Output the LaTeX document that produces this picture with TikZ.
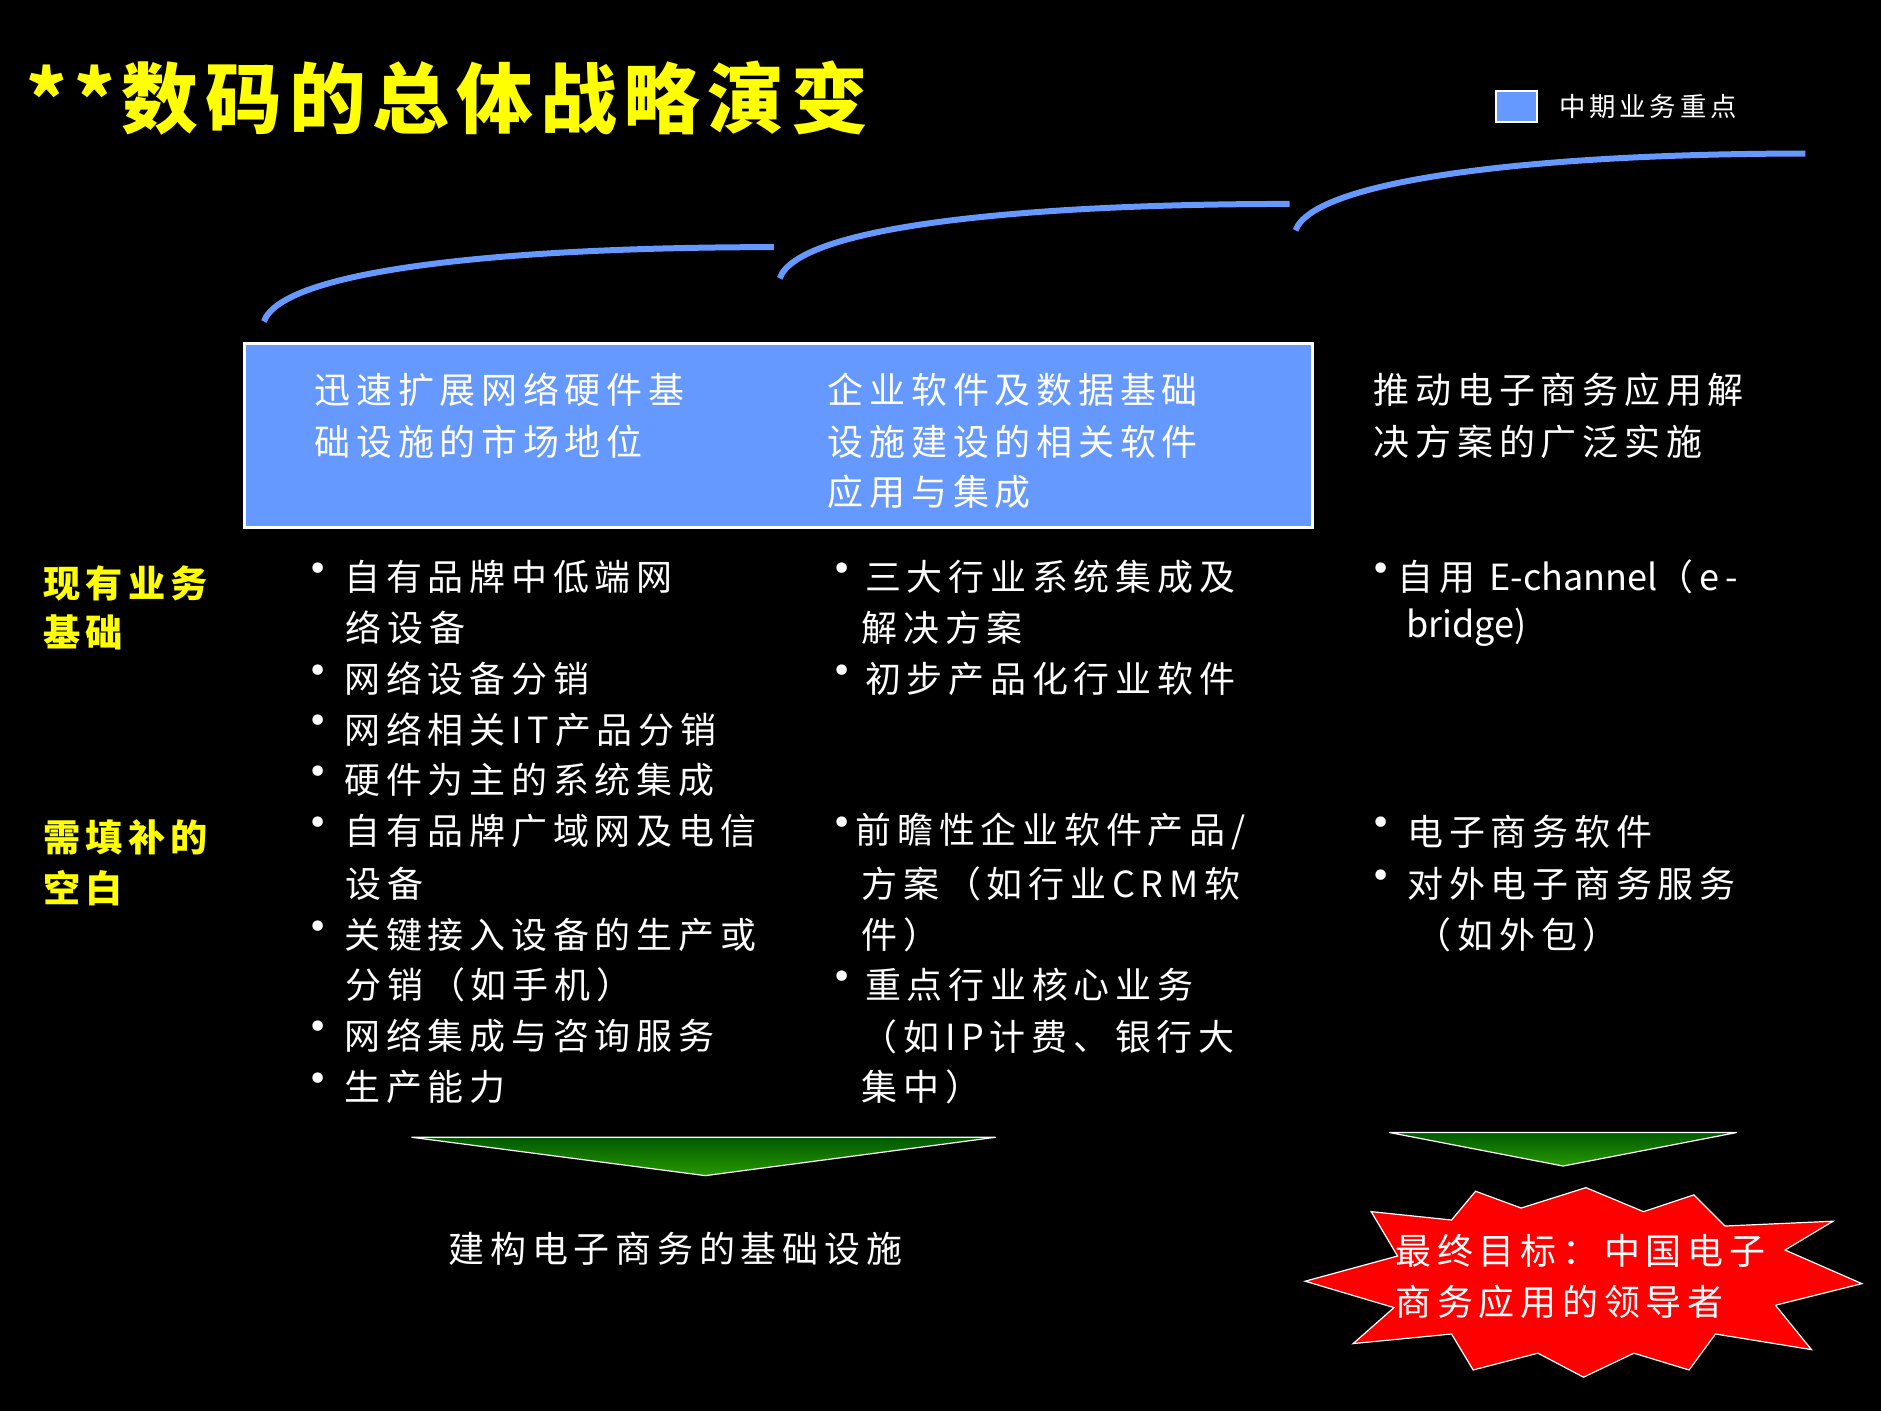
\documentclass[tikz,border=0pt]{standalone}
\usepackage{fontspec}
\setmainfont{Noto Sans CJK SC}
\newfontfamily\bodyf[LetterSpace=16]{Noto Sans CJK SC}
\newfontfamily\labf[LetterSpace=14]{Noto Sans CJK SC}
\newfontfamily\titf[LetterSpace=9]{Noto Sans CJK SC}
\newfontfamily\latf{Noto Sans CJK SC}
\newfontfamily\dv{DejaVu Sans}
\usetikzlibrary{calc}
\definecolor{bluebox}{RGB}{102,153,255}
\definecolor{yel}{RGB}{255,255,0}
\definecolor{grn}{RGB}{0,128,0}
\tikzset{
 bt/.style={anchor=west,text=white,font=\bodyf\fontsize{30}{36}\selectfont,inner sep=0},
 bu/.style={anchor=center,text=white,font=\dv\fontsize{30}{34}\selectfont,inner sep=0},
 lab/.style={anchor=west,text=yel,font=\labf\bfseries\fontsize{31}{36}\selectfont,inner sep=0},
 brace/.style={draw=bluebox,line width=5pt},
 tri/.style={draw=white,line width=1pt,top color=grn!70!black,bottom color=grn!80!lime},
}
\begin{document}
\begin{tikzpicture}[x=1pt,y=-1pt]
\fill[black] (0,0) rectangle (1568,1176);
\useasboundingbox (0,0) rectangle (1568,1176);
\node[anchor=west,text=yel,font=\titf\bfseries\fontsize{64}{70}\selectfont,inner sep=0] (title) at (22,82) {**数码的总体战略演变};
\node[draw=white,line width=1.5pt,fill=bluebox,minimum width=34,minimum height=26,inner sep=0] (leg) at (1264,89) {};
\node[anchor=west,text=white,font=\labf\fontsize{22}{26}\selectfont,inner sep=0] (legt) at (1300,89) {中期业务重点};
\coordinate (b1s) at (220,268); \coordinate (b1e) at (645,206);
\coordinate (b2s) at (650,232); \coordinate (b2e) at (1075,170);
\coordinate (b3s) at (1080,192); \coordinate (b3e) at (1505,128);
\draw[brace] (b1s) .. controls (235,225) and (420,206) .. (b1e);
\draw[brace] (b2s) .. controls (665,189) and (850,170) .. (b2e);
\draw[brace] (b3s) .. controls (1095,150) and (1280,128) .. (b3e);
\node[draw=white,line width=2.5pt,fill=bluebox,minimum width=890,minimum height=154,inner sep=0] (box) at (649,363) {};
\node[bt] (c1a) at (262,325) {迅速扩展网络硬件基};
\node[bt] (c1b) at (262,368) {础设施的市场地位};
\node[bt] (c2a) at (690,325) {企业软件及数据基础};
\node[bt] (c2b) at (690,368) {设施建设的相关软件};
\node[bt] (c2c) at (690,410) {应用与集成};
\node[bt] (c3a) at (1145,325) {推动电子商务应用解};
\node[bt] (c3b) at (1145,368) {决方案的广泛实施};
\node[lab] (l1a) at (36,486) {现有业务};
\node[lab] (l1b) at (36,527) {基础};
\node[lab] (l2a) at (36,698) {需填补的};
\node[lab] (l2b) at (36,740) {空白};
% column 1
\foreach \y/\t in {481/自有品牌中低端网,566/网络设备分销,608/网络相关IT产品分销,650/硬件为主的系统集成,693/自有品牌广域网及电信,779/关键接入设备的生产或,863/网络集成与咨询服务,906/生产能力}
 {\node[bu] at (265,\y-4) {•}; \node[bt] at (287,\y) {\t};}
\foreach \y/\t in {523/络设备,737/设备,821/分销（如手机）}
 {\node[bt] at (288,\y) {\t};}
% column 2
\foreach \y/\t in {481/三大行业系统集成及,566/初步产品化行业软件,821/重点行业核心业务}
 {\node[bu] at (702,\y-4) {•}; \node[bt] at (721,\y) {\t};}
\node[bu] at (702,689) {•}; \node[bt] at (713,693) {前瞻性企业软件产品/};
\foreach \y/\t in {523/解决方案,737/方案（如行业CRM软,779/件）,864/（如IP计费、银行大,906/集中）}
 {\node[bt] at (718,\y) {\t};}
% column 3
\node[bu] at (1151,477) {•}; \node[bt] at (1165,481) {自用 {\latf E-channel}（e-};
\node[bt] at (1172,523) {{\latf bridge)}};
\node[bu] at (1151,689) {•}; \node[bt] at (1173,693) {电子商务软件};
\node[bu] at (1151,733) {•}; \node[bt] at (1173,737) {对外电子商务服务};
\node[bt] at (1180,779) {（如外包）};
% triangles
\coordinate (t1a) at (343,948); \coordinate (t1b) at (830,948); \coordinate (t1c) at (588,980);
\coordinate (t2a) at (1158,944); \coordinate (t2b) at (1448,944); \coordinate (t2c) at (1303,972);
\draw[tri] (t1a) -- (t1b) -- (t1c) -- cycle;
\draw[tri] (t2a) -- (t2b) -- (t2c) -- cycle;
\node[bt,anchor=center] (base) at (563,1041) {建构电子商务的基础设施};
% starburst
\fill[red,draw=white,line width=1pt] (1088,1068) -- (1165,1047) -- (1143,1010) -- (1210,1017) -- (1230,993) -- (1268,1007) -- (1322,990) -- (1370,1010) -- (1412,996) -- (1438,1022) -- (1528,1018) -- (1488,1042) -- (1552,1070) -- (1480,1088) -- (1510,1125) -- (1430,1112) -- (1408,1142) -- (1362,1128) -- (1320,1148) -- (1282,1128) -- (1228,1142) -- (1210,1112) -- (1128,1120) -- (1162,1090) -- cycle;
\node[bt] (g1) at (1163,1043) {最终目标：中国电子};
\node[bt] (g2) at (1163,1085) {商务应用的领导者};
\end{tikzpicture}
\end{document}
